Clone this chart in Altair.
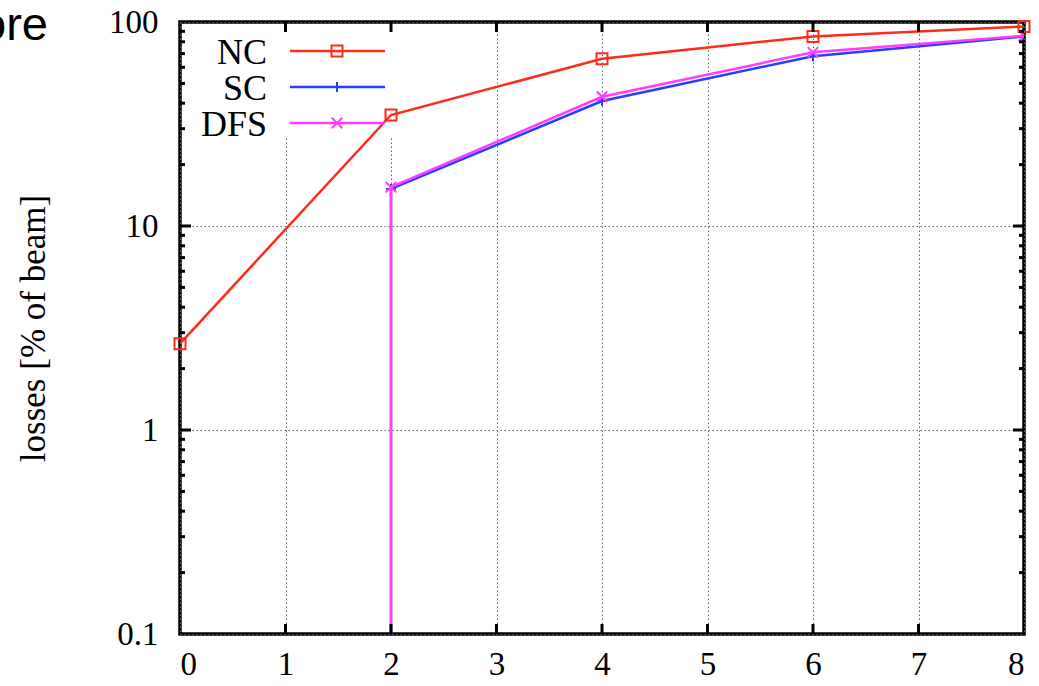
import altair as alt
import pandas as pd

# ---- data ----
nc_x = [0, 2, 4, 6, 8]
nc_y = [2.65, 35.0, 66.0, 85.0, 95.0]

sc_x = [2, 2, 4, 6, 8]
sc_y = [0.001, 15.2, 41.0, 68.0, 85.0]

dfs_x = [2, 2, 4, 6, 8]
dfs_y = [0.001, 15.5, 43.0, 71.0, 85.5]

x_ticks = [0, 1, 2, 3, 4, 5, 6, 7, 8]
y_ticks = [0.1, 1, 10, 100]
y_minor = [0.2, 0.3, 0.4, 0.5, 0.6, 0.7, 0.8, 0.9,
           2, 3, 4, 5, 6, 7, 8, 9,
           20, 30, 40, 50, 60, 70, 80, 90]
x_inner = [1, 2, 3, 4, 5, 6, 7]
y_inner = [1, 10]

names = ["NC", "SC", "DFS"]
colors = ["#ff2a1a", "#2a3cff", "#ff3cff"]

W, H = 844, 612
SERIF = "Liberation Serif"

xs = alt.Scale(domain=[0, 8], nice=False, zero=False)
ys = alt.Scale(type="log", domain=[0.1, 100], nice=False)

X = alt.X("x:Q", scale=xs,
          axis=alt.Axis(values=x_ticks, title=None, tickSize=0, domain=False,
                        labelFont=SERIF, labelFontSize=33, labelColor="black",
                        labelPadding=14, grid=True, gridColor="#666",
                        gridDash=[1.5, 2.5], gridWidth=1, format="d"))
Y = alt.Y("y:Q", scale=ys,
          axis=alt.Axis(values=y_ticks, title="losses [% of beam]", tickSize=0,
                        domain=False, labelFont=SERIF, labelFontSize=33,
                        labelColor="black", labelPadding=22, grid=True,
                        gridColor="#666", gridDash=[1.5, 2.5], gridWidth=1,
                        titleFont=SERIF, titleFontSize=35, titleFontWeight="normal",
                        titleColor="black", titleX=-147, titleY=H / 2,
                        titleAngle=-90, titleBaseline="middle", titleAlign="center",
                        labelExpr="datum.value >= 1 ? format(datum.value, 'd') : format(datum.value, '.1f')"))

nc_df = pd.DataFrame({"x": nc_x, "y": nc_y})
sc_df = pd.DataFrame({"x": sc_x, "y": sc_y})
dfs_df = pd.DataFrame({"x": dfs_x, "y": dfs_y})

one = alt.Data(values=[{"a": 1}])

# base layer carrying the axes and grid
base = alt.Chart(nc_df).mark_point(opacity=0).encode(x=X, y=Y)

# legend background box
legend_box = alt.Chart(one).mark_rect(color="white").encode(
    x=alt.value(2), x2=alt.value(215), y=alt.value(2), y2=alt.value(116))

plus_path = "M-1,0L1,0M0,-1L0,1"
x_path = "M-1,-1L1,1M-1,1L1,-1"

nc_line = alt.Chart(nc_df).mark_line(color=colors[0], strokeWidth=2.5, clip=True).encode(
    x=alt.X("x:Q", scale=xs), y=alt.Y("y:Q", scale=ys))
nc_pts = alt.Chart(nc_df).mark_point(shape="square", size=121, filled=False,
                                     color=colors[0], strokeWidth=2, opacity=1).encode(
    x=alt.X("x:Q", scale=xs), y=alt.Y("y:Q", scale=ys))

sc_line = alt.Chart(sc_df).mark_line(color=colors[1], strokeWidth=2.5, clip=True).encode(
    x=alt.X("x:Q", scale=xs), y=alt.Y("y:Q", scale=ys))
sc_pts = alt.Chart(sc_df).mark_point(shape=plus_path, size=100, filled=False,
                                     color=colors[1], strokeWidth=2, opacity=1, clip=True).encode(
    x=alt.X("x:Q", scale=xs), y=alt.Y("y:Q", scale=ys))

dfs_line = alt.Chart(dfs_df).mark_line(color=colors[2], strokeWidth=2.5, clip=True).encode(
    x=alt.X("x:Q", scale=xs), y=alt.Y("y:Q", scale=ys))
dfs_pts = alt.Chart(dfs_df).mark_point(shape=x_path, size=110, filled=False,
                                       color=colors[2], strokeWidth=2, opacity=1, clip=True).encode(
    x=alt.X("x:Q", scale=xs), y=alt.Y("y:Q", scale=ys))

# legend entries
shapes = ["square", plus_path, x_path]
sizes = [121, 100, 110]
rows = [29, 65, 101]
legend_layers = []
for name, col, shp, sz, ry in zip(names, colors, shapes, sizes, rows):
    legend_layers.append(alt.Chart(one).mark_text(
        text=name, font=SERIF, fontSize=36, align="right", baseline="middle",
        color="black", dy=2).encode(x=alt.value(87), y=alt.value(ry)))
    legend_layers.append(alt.Chart(one).mark_rule(color=col, strokeWidth=2.5).encode(
        x=alt.value(110), x2=alt.value(205), y=alt.value(ry)))
    legend_layers.append(alt.Chart(one).mark_point(
        shape=shp, size=sz, filled=False, color=col, strokeWidth=2, opacity=1).encode(
        x=alt.value(157), y=alt.value(ry)))

# inward ticks
xt_df = pd.DataFrame({"x": x_inner})
yt_df = pd.DataFrame({"y": y_inner})
ym_df = pd.DataFrame({"y": y_minor})
TW = 3
ticks = [
    alt.Chart(xt_df).mark_rule(color="black", strokeWidth=TW).encode(
        x=alt.X("x:Q", scale=xs), y=alt.value(H), y2=alt.value(H - 10)),
    alt.Chart(xt_df).mark_rule(color="black", strokeWidth=TW).encode(
        x=alt.X("x:Q", scale=xs), y=alt.value(0), y2=alt.value(10)),
    alt.Chart(yt_df).mark_rule(color="black", strokeWidth=TW).encode(
        y=alt.Y("y:Q", scale=ys), x=alt.value(0), x2=alt.value(11)),
    alt.Chart(yt_df).mark_rule(color="black", strokeWidth=TW).encode(
        y=alt.Y("y:Q", scale=ys), x=alt.value(W), x2=alt.value(W - 11)),
    alt.Chart(ym_df).mark_rule(color="black", strokeWidth=TW).encode(
        y=alt.Y("y:Q", scale=ys), x=alt.value(0), x2=alt.value(5)),
    alt.Chart(ym_df).mark_rule(color="black", strokeWidth=TW).encode(
        y=alt.Y("y:Q", scale=ys), x=alt.value(W), x2=alt.value(W - 5)),
]

corner_text = alt.Chart(one).mark_text(
    text="ore", font="Liberation Sans", fontSize=47, align="right",
    baseline="alphabetic", color="black").encode(x=alt.value(-132), y=alt.value(18))

chart = alt.layer(
    base, legend_box,
    nc_line, nc_pts, sc_line, sc_pts, dfs_line, dfs_pts,
    *legend_layers, *ticks, corner_text
).properties(
    width=W, height=H,
    autosize=alt.AutoSizeParams(type="none"),
    padding={"left": 180, "top": 22, "right": 15, "bottom": 52},
    background="white",
).configure_view(stroke="black", strokeWidth=3.5
).configure_axis(labelFont=SERIF, titleFont=SERIF, titleFontWeight="normal")

chart.save("out.html", embed_options={"renderer": "svg", "actions": False})
